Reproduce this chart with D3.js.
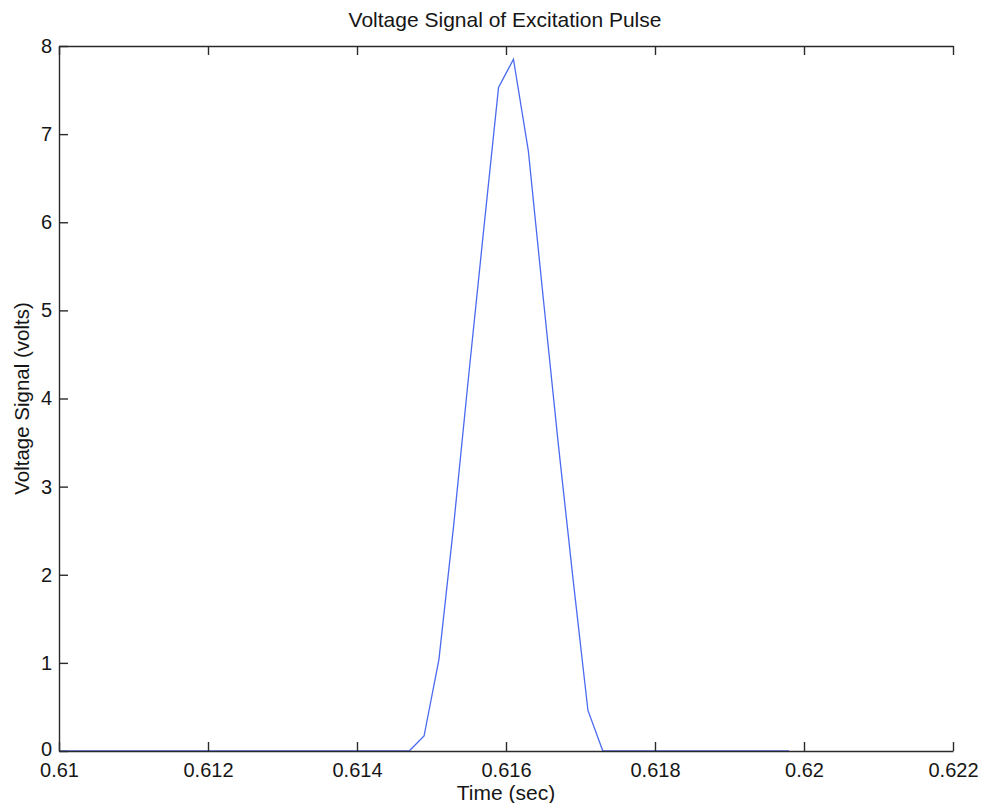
<!DOCTYPE html>
<html>
<head>
<meta charset="utf-8">
<script src="https://cdn.jsdelivr.net/npm/d3@7"></script>
<style>
  html, body { margin: 0; padding: 0; background: #fff; }
  svg { display: block; font-family: "Liberation Sans", Arial, sans-serif; }
</style>
</head>
<body>
<svg id="chart" width="982" height="803"></svg>
<script>
// ---- data ----
const timeSec = [0.6100, 0.6147, 0.6149, 0.6151, 0.6153, 0.6155, 0.6157, 0.6159, 0.6161,
                 0.6163, 0.6165, 0.6167, 0.6169, 0.6171, 0.6173, 0.6198];
const voltage = [0, 0, 0.17, 1.04, 2.58, 4.27, 5.91, 7.53, 7.85,
                 6.81, 5.14, 3.50, 1.95, 0.46, 0, 0];
const xTicks = [0.61, 0.612, 0.614, 0.616, 0.618, 0.62, 0.622];
const xTickLabels = ["0.61", "0.612", "0.614", "0.616", "0.618", "0.62", "0.622"];
const yTicks = [0, 1, 2, 3, 4, 5, 6, 7, 8];
const titleText = "Voltage Signal of Excitation Pulse";
const xLabel = "Time (sec)";
const yLabel = "Voltage Signal (volts)";

// ---- layout ----
const L = 59, R = 953, T = 46, B = 751;
const svg = d3.select("#chart");
const x = d3.scaleLinear().domain([0.61, 0.622]).range([L, R]);
const y = d3.scaleLinear().domain([0, 8]).range([B, T]);
const axisColor = "#2a2a2a";
const tickLen = 9;
const fontSize = 20;
const textColor = "#161616";

// data line
const line = d3.line().x((d, i) => x(timeSec[i])).y((d) => y(d));
svg.append("path")
  .datum(voltage)
  .attr("d", line)
  .attr("fill", "none")
  .attr("stroke", "#4a6af0")
  .attr("stroke-width", 1.3);

// axes (MATLAB-style box with inward ticks on all sides)
const xb = d3.axisBottom(x).tickValues(xTicks).tickSizeInner(-tickLen).tickSizeOuter(0)
  .tickPadding(12).tickFormat((d, i) => xTickLabels[i]);
const xt = d3.axisTop(x).tickValues(xTicks).tickSizeInner(-tickLen).tickSizeOuter(0).tickFormat("");
const yl = d3.axisLeft(y).tickValues(yTicks).tickSizeInner(-tickLen).tickSizeOuter(0)
  .tickPadding(7).tickFormat(d3.format("d"));
const yr = d3.axisRight(y).tickValues(yTicks).tickSizeInner(-tickLen).tickSizeOuter(0).tickFormat("");

function style(g) {
  g.select(".domain").attr("stroke", axisColor).attr("stroke-width", 1.4);
  g.selectAll(".tick line").attr("stroke", axisColor).attr("stroke-width", 1.4);
  g.selectAll(".tick text").attr("fill", textColor).style("font-size", fontSize + "px")
    .style("font-family", "'Liberation Sans', Arial, sans-serif");
}
svg.append("g").attr("transform", `translate(0,${B})`).call(xb).call(style);
svg.append("g").attr("transform", `translate(0,${T})`).call(xt).call(style);
const yAxisG = svg.append("g").attr("transform", `translate(${L},0)`).call(yl).call(style);
// lift the "0" label slightly, as in the reference
yAxisG.selectAll(".tick text").filter(d => d === 0).attr("dy", "0.2em");

// titles
svg.append("text").attr("x", (L + R) / 2 - 1).attr("y", 27)
  .attr("text-anchor", "middle").attr("fill", textColor)
  .style("font-size", "21px").text(titleText);
svg.append("text").attr("x", (L + R) / 2).attr("y", 800)
  .attr("text-anchor", "middle").attr("fill", textColor)
  .style("font-size", "21px").text(xLabel);
svg.append("text").attr("transform", `translate(29,${(T + B) / 2}) rotate(-90)`)
  .attr("text-anchor", "middle").attr("fill", textColor)
  .style("font-size", "20.5px").text(yLabel);
</script>
</body>
</html>
